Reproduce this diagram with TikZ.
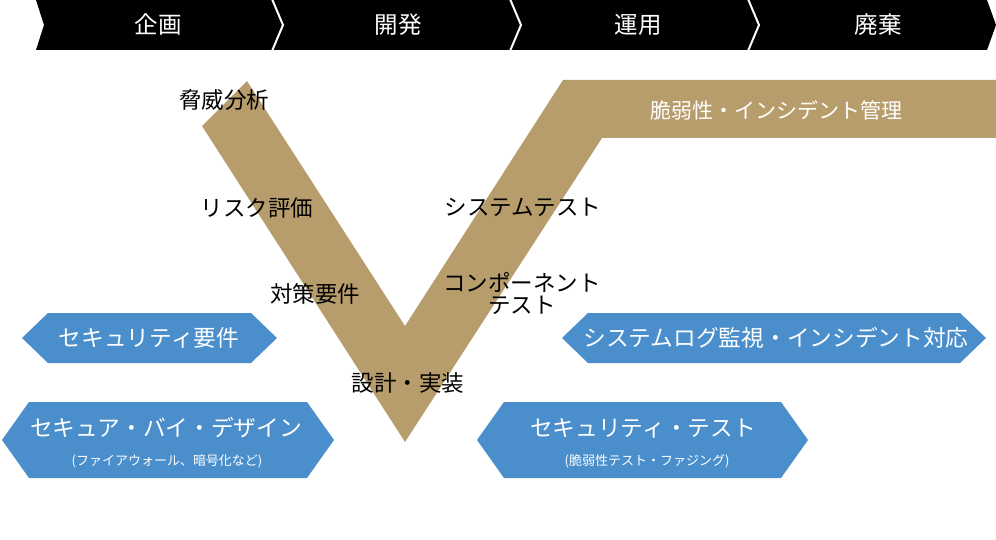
\documentclass[tikz,border=0pt]{standalone}
\usepackage{fontspec}
\setmainfont{Noto Sans CJK JP}
\definecolor{tan}{RGB}{184,157,108}
\definecolor{hexblue}{RGB}{74,142,204}
\tikzset{
  phaselbl/.style={text=white,font=\fontsize{23.5}{26}\selectfont,inner sep=0pt},
  steplbl/.style={text=black,font=\fontsize{22.5}{25}\selectfont,inner sep=0pt,align=center},
  hexlbl/.style={text=white,font=\fontsize{22.7}{25}\selectfont,inner sep=0pt},
  hexsub/.style={text=white,font=\fontsize{13}{15}\selectfont,inner sep=0pt},
  hexfill/.style={fill=hexblue},
}
\newcommand\myhex[5]{\fill[hexfill] (#1,{(#3+#4)/2}) -- (#1+#5,#3) -- (#2-#5,#3) -- (#2,{(#3+#4)/2}) -- (#2-#5,#4) -- (#1+#5,#4) -- cycle;}
\begin{document}
\begin{tikzpicture}[x=1pt,y=-1pt]
\useasboundingbox (0,0) rectangle (996,540);
% phase bar
\fill[black] (36,0) -- (987,0) -- (996,25) -- (987,50) -- (36,50) -- (44,25) -- cycle;
\foreach \sx in {272,510,748}{
  \draw[white,line width=2pt] (\sx,-1) -- (\sx+11,25) -- (\sx,51);
}
\node[phaselbl] (p1) at (158,25) {企画};
\node[phaselbl] (p2) at (398,25) {開発};
\node[phaselbl] (p3) at (638,25) {運用};
\node[phaselbl] (p4) at (878,25) {廃棄};
% V shape
\fill[tan] (202,126) -- (247,81) -- (405,326) -- (563,80) -- (996,80) -- (996,138) -- (602,138) -- (405,442) -- cycle;
\node[text=white,font=\fontsize{21}{24}\selectfont,inner sep=0pt] (vul) at (776,110) {脆弱性・インシデント管理};
% step labels
\node[steplbl] (s1) at (224,100) {脅威分析};
\node[steplbl] (s2) at (257,208) {リスク評価};
\node[steplbl] (s3) at (315,294) {対策要件};
\node[steplbl] (s4) at (408,383) {設計・実装};
\node[steplbl] (s5) at (523,207) {システムテスト};
\node[steplbl,text width=180pt] (s6) at (522,293) {コンポーネント\\[-3pt]テスト};
% hexagons
\myhex{22}{277}{313}{363}{26}
\node[hexlbl] (h1) at (149,338) {セキュリティ要件};
\myhex{2}{334}{402}{478}{27}
\node[hexlbl] (h2) at (166,428) {セキュア・バイ・デザイン};
\node[hexsub] (h2s) at (167,461) {(ファイアウォール、暗号化など)};
\myhex{562}{986}{313}{363}{26}
\node[hexlbl] (h3) at (776,338) {システムログ監視・インシデント対応};
\myhex{477}{808}{402}{478}{27}
\node[hexlbl] (h4) at (643,428) {セキュリティ・テスト};
\node[hexsub] (h4s) at (647,461) {(脆弱性テスト・ファジング)};
\end{tikzpicture}
\end{document}
